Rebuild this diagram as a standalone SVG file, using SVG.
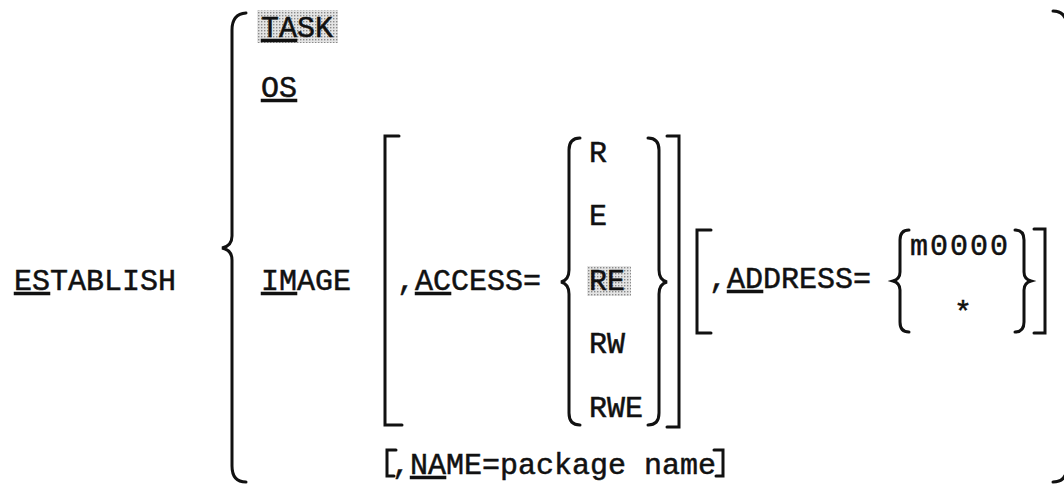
<svg xmlns="http://www.w3.org/2000/svg" width="1064" height="486" viewBox="0 0 1064 486">
  <style>
    .t { font-family: "Liberation Mono", "DejaVu Sans Mono", monospace; font-size: 30px; fill: #111; stroke: #111; stroke-width: 0.5; }
    .u { text-decoration: underline; }
    .s { fill: none; stroke: #111; stroke-width: 3; stroke-linecap: round; stroke-linejoin: miter; }
    .hl { fill: url(#dots); }
  </style>
  <defs>
    <pattern id="dots" width="3" height="3" patternUnits="userSpaceOnUse">
      <rect width="3" height="3" fill="#e4e4e4"/>
      <rect x="0" y="0" width="1.4" height="1.4" fill="#8a8a8a"/>
    </pattern>
  </defs>
  <rect width="1064" height="486" fill="#fff"/>

  <g id="brackets">
    <path class="s" d="M 246 13 Q 232 14 232 30 L 232 236 Q 232 246 222 248 Q 232 250 232 260 L 232 466 Q 232 482 246 482"/>
    <path class="s" d="M 1053 11 Q 1067 11 1067 28 L 1067 236 Q 1067 246 1077 248 Q 1067 250 1067 260 L 1067 466 Q 1067 482 1053 482"/>
    <path class="s" d="M 399 136 L 385 136 L 385 425 L 402 425"/>
    <path class="s" d="M 580 138 Q 569 138 569 150 L 569 270 Q 569 280 561 282 Q 569 284 569 294 L 569 413 Q 569 425 580 425"/>
    <path class="s" d="M 648 138 Q 659 138 659 150 L 659 270 Q 659 280 667 282 Q 659 284 659 294 L 659 413 Q 659 425 648 425"/>
    <path class="s" d="M 667 136 L 679 136 L 679 427 L 667 427"/>
    <path class="s" d="M 711 230 L 697 230 L 697 333 L 711 333"/>
    <path class="s" d="M 909 230 Q 900 230 900 240 L 900 272 Q 900 279 893 281 Q 900 283 900 290 L 900 322 Q 900 332 909 332"/>
    <path class="s" d="M 1015 230 Q 1024 230 1024 240 L 1024 272 Q 1024 279 1031 281 Q 1024 283 1024 290 L 1024 322 Q 1024 332 1015 332"/>
    <path class="s" d="M 1034 229 L 1045 229 L 1045 333 L 1034 333"/>
    <path class="s" d="M 396 450 L 387 450 L 387 476 L 394 476"/>
    <path class="s" d="M 714 450 L 723 450 L 723 476 L 716 476"/>
  </g>

  <g id="command">
    <text class="t" x="14" y="290"><tspan class="u">ES</tspan>TABLISH</text>
  </g>

  <g id="options">
    <rect class="hl" x="257" y="10" width="81" height="33"/>
    <text class="t" x="261" y="37"><tspan class="u">TA</tspan>SK</text>
    <text class="t" x="261" y="97"><tspan class="u">OS</tspan></text>
    <text class="t" x="261" y="290"><tspan class="u">IM</tspan>AGE</text>
  </g>

  <g id="access">
    <text class="t" x="397" y="290">,<tspan class="u">AC</tspan>CESS=</text>
    <text class="t" x="589" y="162">R</text>
    <text class="t" x="589" y="225">E</text>
    <rect class="hl" x="587" y="266" width="44" height="30"/>
    <text class="t" x="589" y="290">RE</text>
    <text class="t" x="589" y="353">RW</text>
    <text class="t" x="589" y="417">RWE</text>
  </g>

  <g id="address">
    <text class="t" x="709" y="288">,<tspan class="u">AD</tspan>DRESS=</text>
    <text class="t" x="910" y="255" letter-spacing="2">m0000</text>
    <text class="t" x="954" y="322">*</text>
  </g>

  <g id="name">
    <text class="t" x="392" y="474">,<tspan class="u">NA</tspan>ME=package name</text>
  </g>
</svg>
